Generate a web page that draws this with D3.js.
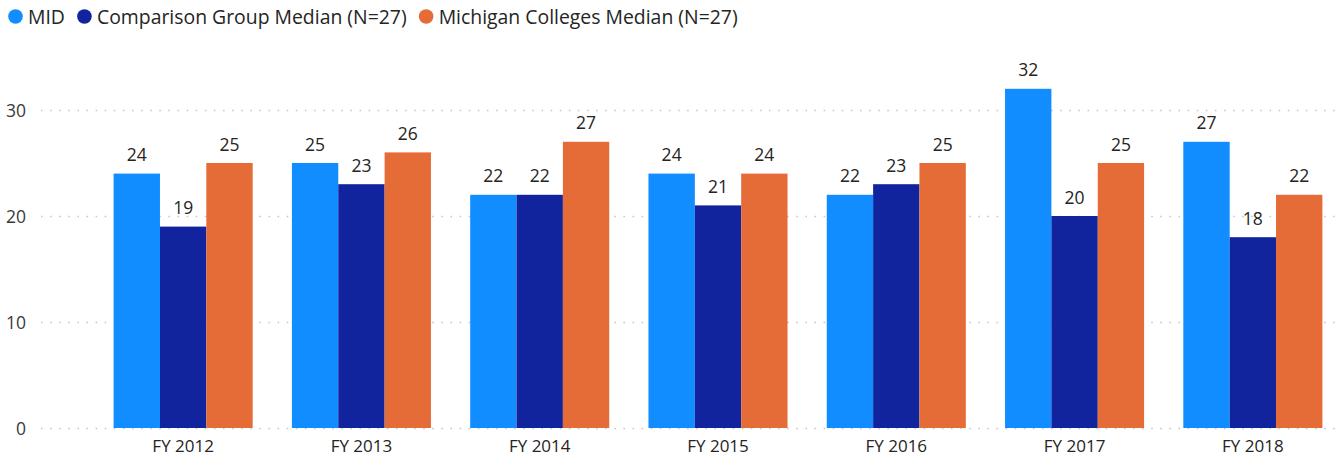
<!DOCTYPE html>
<html>
<head>
<meta charset="utf-8">
<script src="https://cdn.jsdelivr.net/npm/d3@7"></script>
<style>
  html, body { margin: 0; padding: 0; background: #fff; }
  svg { display: block; font-family: "Segoe UI", "Open Sans", sans-serif; }
</style>
</head>
<body>
<svg id="chart" width="1342" height="457"></svg>
<script>
const categories = ["FY 2012", "FY 2013", "FY 2014", "FY 2015", "FY 2016", "FY 2017", "FY 2018"];
const seriesNames = ["MID", "Comparison Group Median (N=27)", "Michigan Colleges Median (N=27)"];
const seriesColors = ["#118DFF", "#12239E", "#E66C37"];
const midValues = [24, 25, 22, 24, 22, 32, 27];
const comparisonValues = [19, 23, 22, 21, 23, 20, 18];
const michiganValues = [25, 26, 27, 24, 25, 25, 22];
const yTicks = [0, 10, 20, 30];

const seriesValues = [midValues, comparisonValues, michiganValues];

const svg = d3.select("#chart");

const x0 = d3.scaleBand().domain(categories).range([94, 1342]).paddingInner(0.22).paddingOuter(0.11);
const x1 = d3.scaleBand().domain(d3.range(seriesNames.length)).range([0, x0.bandwidth()]).padding(0);
const y = d3.scaleLinear().domain([0, 35]).range([428, 428 - 35 * 10.6]);

// gridlines
const grid = svg.append("g");
grid.selectAll("line").data(yTicks).join("line")
  .attr("x1", 41).attr("x2", 1341)
  .attr("y1", d => Math.round(y(d)) + 0.5).attr("y2", d => Math.round(y(d)) + 0.5)
  .attr("stroke", "#C8C6C4").attr("stroke-width", 1.6)
  .attr("stroke-dasharray", "1.6,7.5");

// y axis labels
const yAxis = d3.axisLeft(y).tickValues(yTicks).tickSize(0).tickPadding(0);
const yg = svg.append("g").attr("transform", "translate(26,0)").call(yAxis);
yg.select(".domain").remove();
yg.selectAll("text").attr("fill", "#3B3A39").attr("font-size", "17.5px")
  .attr("font-family", "'Segoe UI','Open Sans',sans-serif").attr("dy", "0.36em");

// bars
const groups = svg.append("g").selectAll("g").data(categories).join("g")
  .attr("transform", d => `translate(${x0(d)},0)`);

groups.selectAll("rect").data((c, i) => seriesValues.map((s, k) => ({k, v: s[i]}))).join("rect")
  .attr("x", d => x1(d.k))
  .attr("width", x1.bandwidth())
  .attr("y", d => y(d.v))
  .attr("height", d => y(0) - y(d.v))
  .attr("fill", d => seriesColors[d.k]);

groups.selectAll("text").data((c, i) => seriesValues.map((s, k) => ({k, v: s[i]}))).join("text")
  .attr("x", d => x1(d.k) + x1.bandwidth() / 2)
  .attr("y", d => y(d.v) - 12.5)
  .attr("text-anchor", "middle")
  .attr("font-size", "17.5px")
  .attr("fill", "#252423")
  .text(d => d.v);

// x axis labels
const xAxis = d3.axisBottom(x0).tickSize(0).tickPadding(0);
const xg = svg.append("g").attr("transform", "translate(0,452)").call(xAxis);
xg.select(".domain").remove();
xg.selectAll("text").attr("fill", "#252423").attr("font-size", "17px")
  .attr("font-family", "'Segoe UI','Open Sans',sans-serif").attr("dy", 0);

// legend
const legend = svg.append("g");
let lx = 8;
seriesNames.forEach((name, k) => {
  legend.append("circle").attr("cx", lx + 7.5).attr("cy", 16.5).attr("r", 7.3).attr("fill", seriesColors[k]);
  const t = legend.append("text").attr("x", lx + 20).attr("y", 24)
    .attr("font-size", "19.4px").attr("fill", "#252423").text(name);
  lx = lx + 20 + t.node().getComputedTextLength() + 12;
});
</script>
</body>
</html>
